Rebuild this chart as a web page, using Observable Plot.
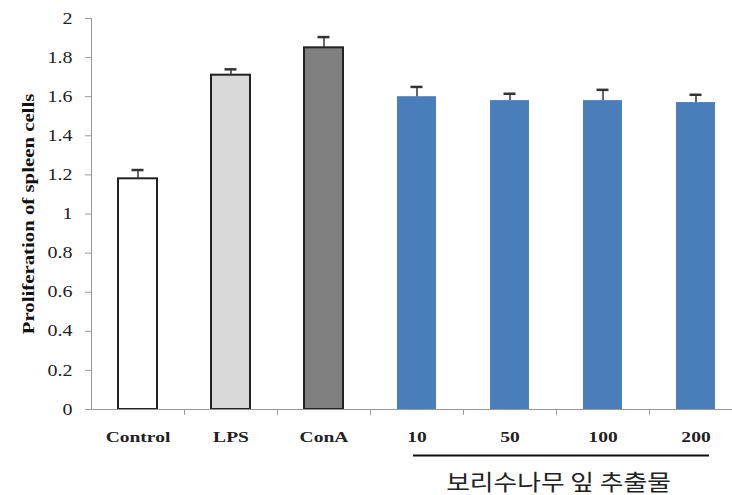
<!DOCTYPE html>
<html>
<head>
<meta charset="utf-8">
<script src="https://cdn.jsdelivr.net/npm/d3@7"></script>
<script src="https://cdn.jsdelivr.net/npm/@observablehq/plot@0.6"></script>
<style>
  html, body { margin: 0; padding: 0; background: #fff; }
  #chart svg { display: block; }
</style>
</head>
<body>
<div id="chart"></div>
<script>
// ---- data ----
const categories = ["Control", "LPS", "ConA", "10", "50", "100", "200"];
const values = [1.18, 1.71, 1.85, 1.60, 1.58, 1.58, 1.57];
const errors = [0.045, 0.03, 0.055, 0.05, 0.035, 0.055, 0.04];
const fills = ["#ffffff", "#d9d9d9", "#808080", "#4a7ebb", "#4a7ebb", "#4a7ebb", "#4a7ebb"];
const outlined = [true, true, true, false, false, false, false];
const yTicks = [0, 0.2, 0.4, 0.6, 0.8, 1, 1.2, 1.4, 1.6, 1.8, 2];
const yLabel = "Proliferation of spleen cells";
const groupLabel = "보리수나무 잎 추출물";
const groupSpan = ["10", "200"];

const data = categories.map((c, i) => ({c, v: values[i], e: errors[i], fill: fills[i], outlined: outlined[i]}));

const W = 732, H = 495;
const left = 91, right = 742;
const step = (right - left) / categories.length;

const plot = Plot.plot({
  width: W,
  height: H,
  marginLeft: left,
  marginRight: 0,
  marginTop: 18,
  marginBottom: 86,
  style: {fontFamily: "'Liberation Serif', serif", fontSize: "16px", background: "#fff", overflow: "visible"},
  x: {domain: categories, range: [left, right], paddingInner: 0.58, paddingOuter: 0.29, label: null},
  y: {domain: [0, 2], label: null},
  marks: [
    // bars
    Plot.barY(data.filter(d => !d.outlined), {x: "c", y: "v", fill: "fill"}),
    Plot.barY(data.filter(d => d.outlined), {x: "c", y: "v", fill: "fill", stroke: "#222", strokeWidth: 2}),
    // error bars (upper only)
    Plot.ruleX(data, {x: "c", y1: "v", y2: d => d.v + d.e, stroke: "#333", strokeWidth: 1.5}),
    Plot.tickY(data, {x: "c", y: d => d.v + d.e, stroke: "#333", strokeWidth: 2.5, insetLeft: 13.5, insetRight: 13.5}),
    // axes lines
    Plot.frame({anchor: "left", stroke: "#999"}),
    Plot.ruleY([0], {stroke: "#999"}),
    // x ticks between categories
    Plot.ruleX(categories.slice(1), {x: d => d, y1: 0, y2: -0.03, dx: -step / 2, stroke: "#999"}),
    // y axis
    Plot.axisY({ticks: yTicks, tickSize: 6, tickPadding: 13, color: "#999", label: null, tickFormat: d3.format("")}),
    // x axis labels
    Plot.axisX({tickSize: 0, tickPadding: 22, label: null, fontWeight: "bold", fontSize: 15}),
    // y label
    Plot.text([yLabel], {frameAnchor: "left", textAnchor: "middle", text: d => d, rotate: -90, dx: -63, fontWeight: "bold", fontSize: 16, fill: "#111"}),
    // group underline and label
    Plot.ruleY([groupSpan], {x1: d => d[0], x2: d => d[1], y: () => -0.235, insetLeft: 16, insetRight: 6, stroke: "#111", strokeWidth: 2}),
    Plot.text([groupLabel], {x: () => "50", y: () => -0.375, text: d => d, dx: step / 2 + 2, fontFamily: "'Noto Sans CJK KR', sans-serif", fontSize: 22, fill: "#222"})
  ]
});

document.getElementById("chart").appendChild(plot);

// widen glyphs to match the reference's wide faces (position untouched)
function stretch(sel, k) {
  sel.each(function () {
    const len = this.getComputedTextLength();
    if (len > 0) {
      this.setAttribute("textLength", (len * k).toFixed(1));
      this.setAttribute("lengthAdjust", "spacingAndGlyphs");
    }
  });
}
const svg = d3.select(plot);
const byText = s => svg.selectAll("text").filter(function () { return this.textContent === s; });
svg.selectAll('g[aria-label="y-axis tick label"]').attr("fill", "#222");
stretch(svg.selectAll('g[aria-label="y-axis tick label"] text'), 1.25);
svg.selectAll('g[aria-label="x-axis tick label"]').attr("fill", "#222").attr("font-weight", "bold").attr("font-size", 15);
stretch(svg.selectAll('g[aria-label="x-axis tick label"] text'), 1.3);
stretch(byText(yLabel), 1.3);
stretch(byText(groupLabel), 1.17);
</script>
</body>
</html>
